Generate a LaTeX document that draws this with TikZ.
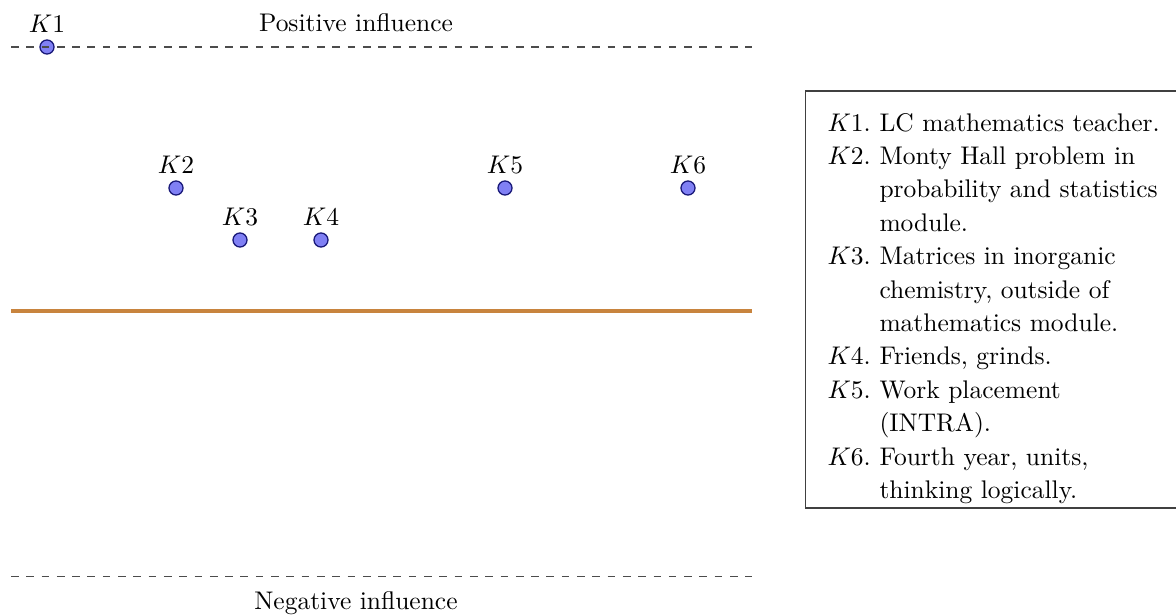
\documentclass[tikz,border=0pt]{standalone}
\usepackage{array}
\definecolor{dotfill}{RGB}{128,128,244}
\definecolor{dotdraw}{RGB}{24,24,120}
\definecolor{midline}{RGB}{200,132,62}
\tikzset{
  kdot/.style={circle, draw=dotdraw, fill=dotfill, line width=0.5pt, minimum size=5.5pt, inner sep=0pt},
  infl/.style={dashed, line width=0.4pt, draw=black!70},
  captxt/.style={font=\fontsize{10}{12}\selectfont}
}
\begin{document}
\begin{tikzpicture}[x=0.3922pt, y=-0.3922pt]
\useasboundingbox (0,0) rectangle (1176,614);
% dots
\node[kdot, label={[inner sep=2.6pt]above:$K1$}] (k1) at (47,47) {};
\node[kdot, label={[inner sep=2.6pt]above:$K2$}] (k2) at (176,188) {};
\node[kdot, label={[inner sep=2.6pt]above:$K3$}] (k3) at (240,240) {};
\node[kdot, label={[inner sep=2.6pt]above:$K4$}] (k4) at (321,240) {};
\node[kdot, label={[inner sep=2.6pt]above:$K5$}] (k5) at (505,188) {};
\node[kdot, label={[inner sep=2.6pt]above:$K6$}] (k6) at (688,188) {};
% lines
\coordinate (pl) at (11,47);
\coordinate (pr) at (752,47);
\draw[infl] (pl) -- (pr);
\coordinate (ml) at (11,311);
\coordinate (mr) at (752,311);
\draw[midline, line width=1.6pt] (ml) -- (mr);
\coordinate (nl) at (11,576);
\coordinate (nr) at (752,576);
\draw[infl] (nl) -- (nr);
\node[captxt, anchor=base] (pos) at (356,31) {Positive influence};
\node[captxt, anchor=base] (neg) at (356,609) {Negative influence};
% legend
\coordinate (bx1) at (805,91);
\coordinate (bx2) at (1185,508);
\draw[line width=0.4pt, draw=black!75] (bx1) rectangle (bx2);
\node[anchor=base west, inner sep=0pt] (legend) at (827,131) {\fontsize{10}{13.1}\selectfont
\begin{tabular}[t]{@{}l@{\hspace{3.4pt}}l@{}}
$K1$. & LC mathematics teacher.\\
$K2$. & Monty Hall problem in\\
      & probability and statistics\\
      & module.\\
$K3$. & Matrices in inorganic\\
      & chemistry, outside of\\
      & mathematics module.\\
$K4$. & Friends, grinds.\\
$K5$. & Work placement\\
      & (INTRA).\\
$K6$. & Fourth year, units,\\
      & thinking logically.
\end{tabular}};
\end{tikzpicture}
\end{document}
